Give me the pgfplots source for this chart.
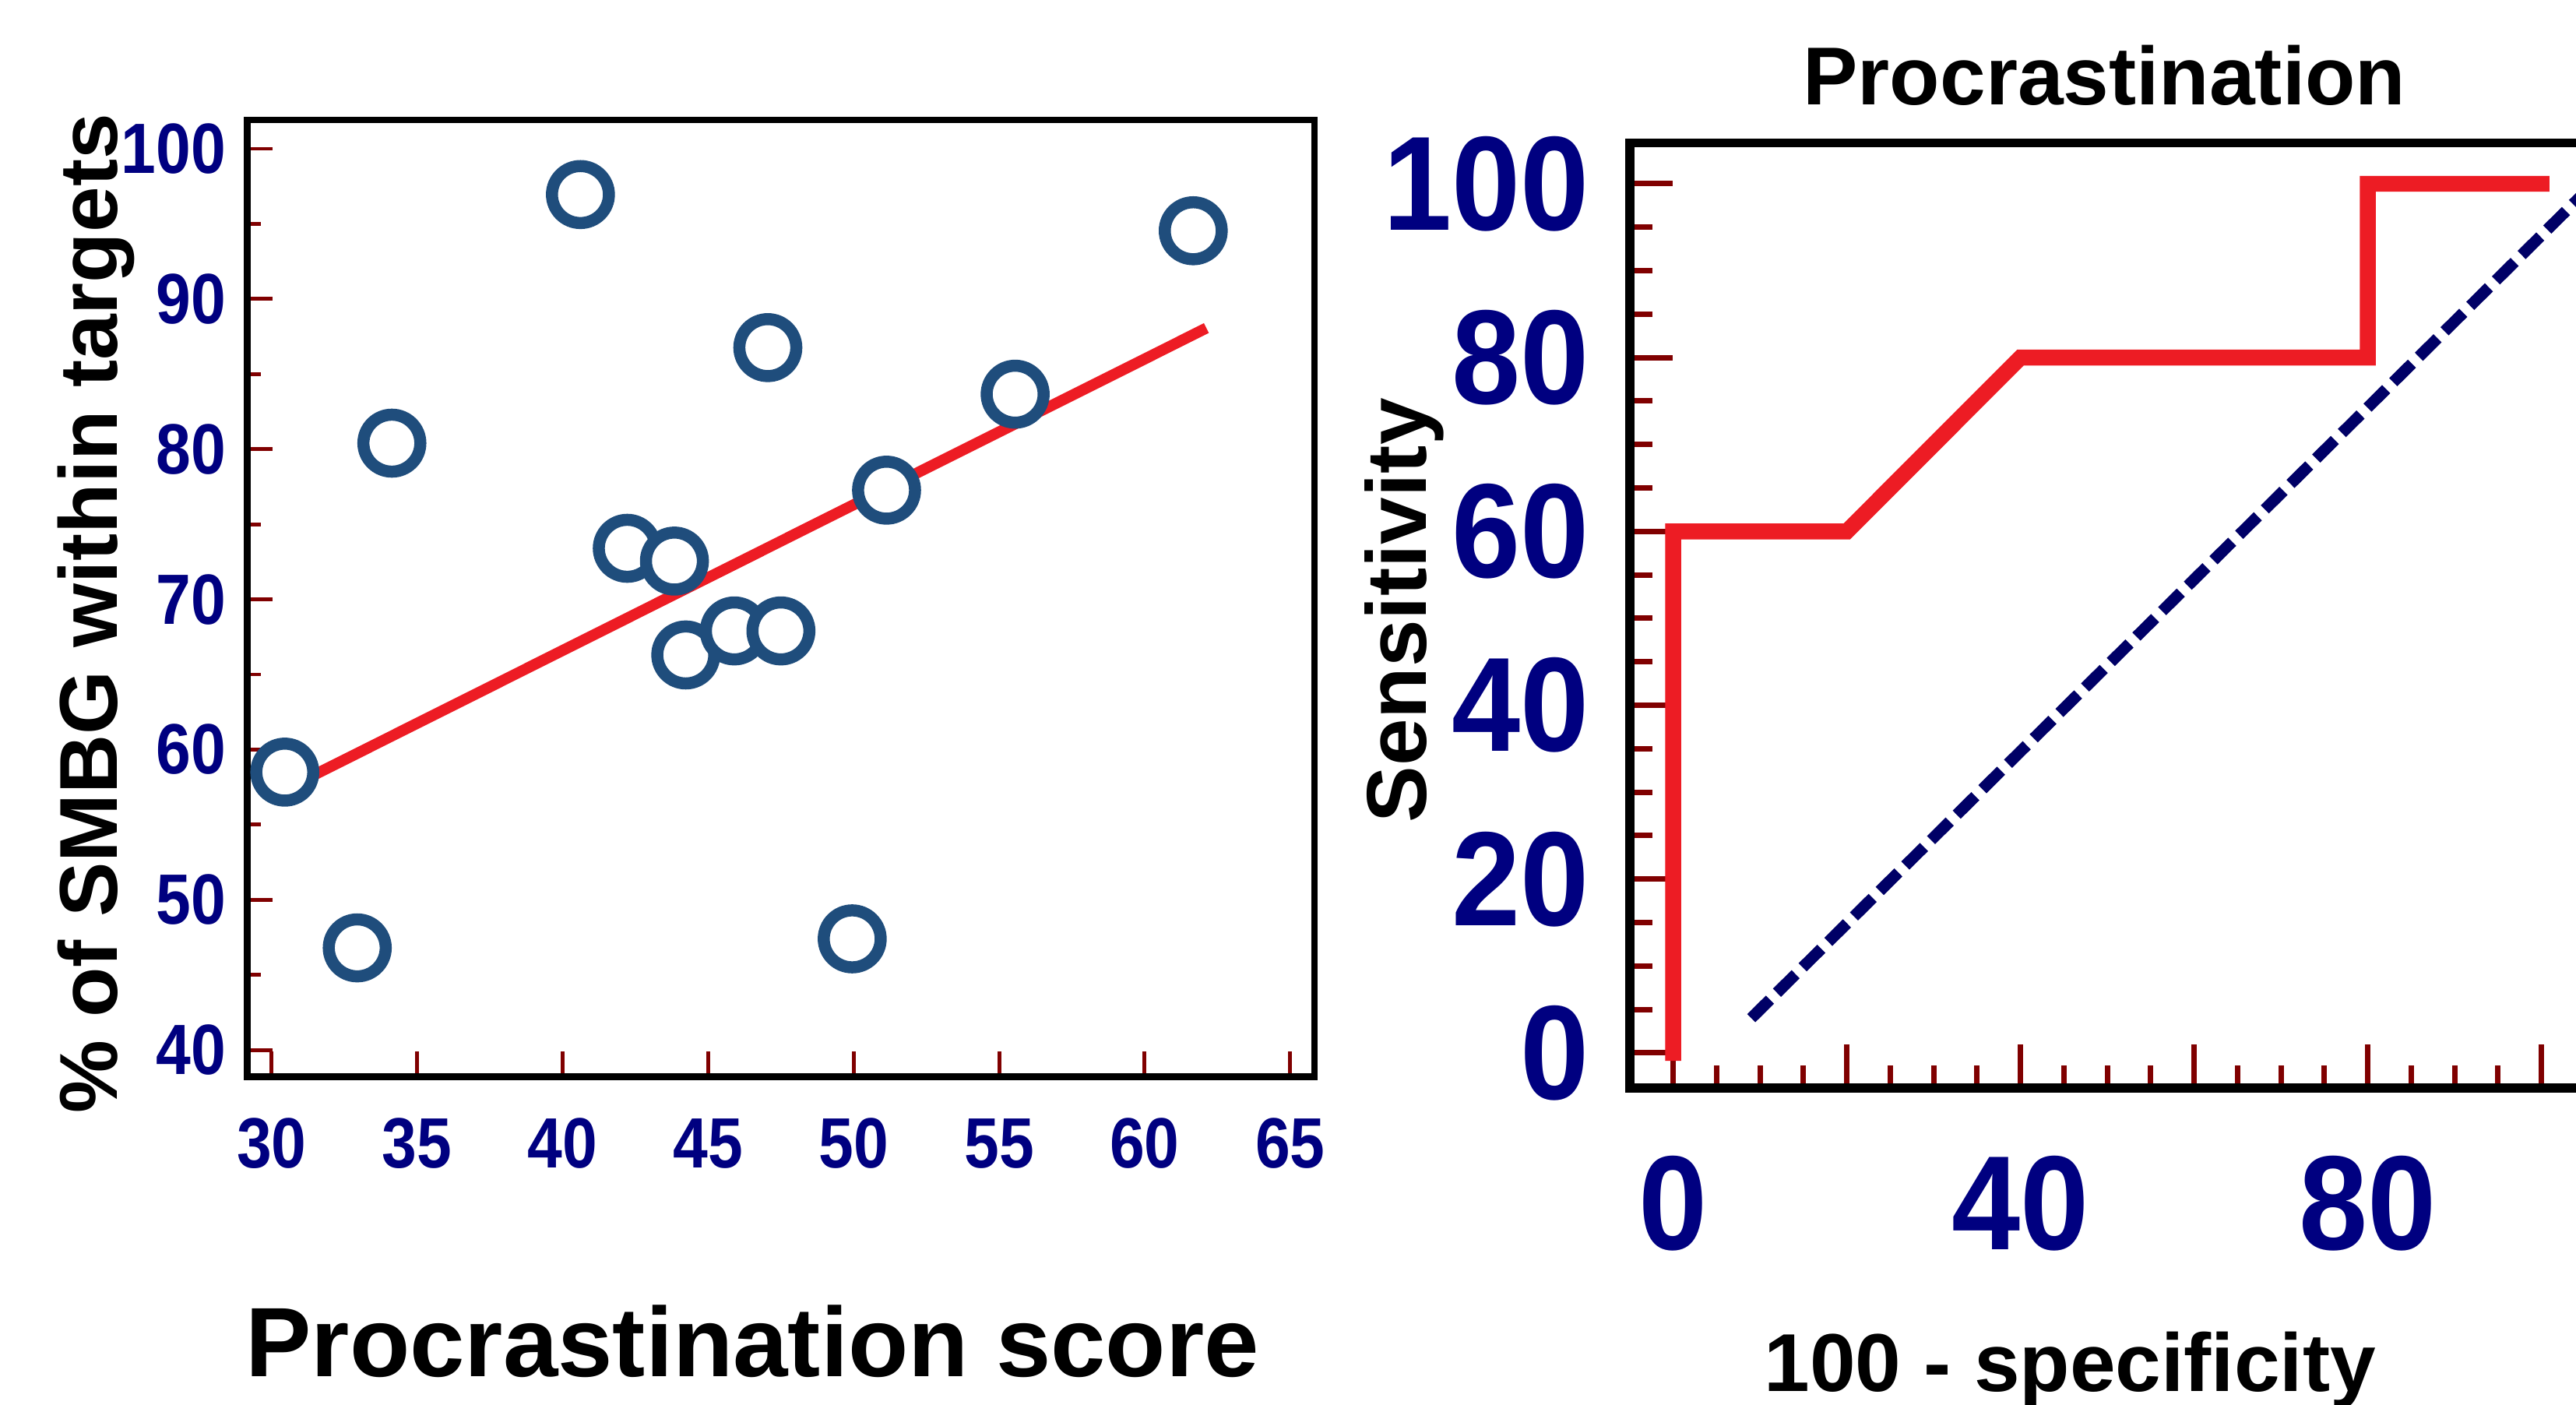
\documentclass[border=0pt]{standalone}
\usepackage{fontspec}
\setmainfont{Liberation Sans}
\usepackage{pgfplots}
\pgfplotsset{compat=1.18}
\definecolor{tlnavy}{RGB}{0,0,128}
\definecolor{tickred}{RGB}{128,0,0}
\definecolor{circblue}{RGB}{31,77,124}
\definecolor{regred}{RGB}{237,28,36}
\definecolor{dashnavy}{RGB}{0,0,102}
\begin{document}
\begin{tikzpicture}
\begin{axis}[
  at={(45.15pt,59.9pt)}, anchor=south west,
  scale only axis, width=194.85pt, height=174.7pt,
  xmin=29.16, xmax=65.83, ymin=38.22, ymax=101.92,
  xtick={30,35,...,65}, ytick={40,50,...,100},
  minor y tick num=1,
  tick align=inside, xtick pos=bottom, ytick pos=left,
  major tick length=4.6pt, minor tick length=2.5pt,
  tick style={tickred, line width=0.7pt},
  axis line style={line width=1.2pt, black},
  /pgf/number format/assume math mode=true,
  xticklabel style={font=\fontsize{13}{13}\selectfont\bfseries, text=tlnavy, anchor=base, yshift=-16.6pt, inner sep=0pt, xscale=0.88},
  yticklabel style={font=\fontsize{13}{13}\selectfont\bfseries, text=tlnavy, anchor=east, xshift=-3.75pt, inner sep=0pt, xscale=0.88},
  xlabel={Procrastination score},
  xlabel style={font=\fontsize{18}{18}\selectfont\bfseries, at={(axis description cs:0.4734,-0.3137)}, anchor=base},
  ylabel={\% of SMBG within targets},
  ylabel style={font=\fontsize{15}{15}\selectfont\bfseries, at={(axis description cs:-0.122,0.484)}, anchor=base},
]
\addplot[regred, line width=2pt, forget plot] coordinates {(31.3,58.16) (62.12,88.06)};
\addplot[only marks, mark=*, mark size=5.2pt, mark options={fill=white, draw=circblue, line width=2.2pt}] coordinates {
(30.45,58.5) (32.94,46.8) (34.13,80.4) (40.61,96.95) (42.22,73.4) (43.84,72.55) (44.23,66.3)
(45.9,67.9) (47.5,67.9) (47.05,86.76) (49.95,47.4) (51.13,77.27) (55.55,83.66) (61.67,94.54)};
\end{axis}

\begin{axis}[
  at={(297.6pt,57.9pt)}, anchor=south west,
  scale only axis, width=174.4pt, height=172.5pt,
  xmin=-5, xmax=105, ymin=-4, ymax=104.7,
  xtick={0,20,...,100}, xticklabels={0,,40,,80,},
  ytick={0,20,...,100},
  minor x tick num=3, minor y tick num=3,
  tick align=inside, xtick pos=bottom, ytick pos=left,
  major tick length=7.85pt, minor tick length=4.1pt,
  tick style={tickred, line width=1pt},
  axis line style={line width=1.7pt, black},
  /pgf/number format/assume math mode=true,
  xticklabel style={font=\fontsize{24.5}{24.5}\selectfont\bfseries, text=tlnavy, anchor=base, yshift=-29.6pt, inner sep=0pt, xscale=0.92},
  yticklabel style={font=\fontsize{24.5}{24.5}\selectfont\bfseries, text=tlnavy, anchor=east, xshift=-7.2pt, inner sep=0pt, xscale=0.92},
  title={Procrastination},
  every axis title/.style={font=\fontsize{15}{15}\selectfont\bfseries, at={(axis description cs:0.497,1.0406)}, anchor=base},
  xlabel={100 - specificity},
  xlabel style={font=\fontsize{15}{15}\selectfont\bfseries, at={(axis description cs:0.461,-0.3214)}, anchor=base},
  ylabel={Sensitivity},
  ylabel style={font=\fontsize{15.5}{15.5}\selectfont\bfseries, at={(axis description cs:-0.213,0.505)}, anchor=base},
]
\addplot[dashnavy, line width=2.1pt, dash pattern=on 4.8pt off 1.8pt] coordinates {(9,4) (106,100)};
\addplot[regred, line width=2.9pt, line cap=rect, line join=miter] coordinates {(0,0) (0,60) (20,60) (40,80) (80,80) (80,100) (100,100)};
\end{axis}
\pgfresetboundingbox
\useasboundingbox (0,0) rectangle (470.4pt,256.5pt);
\end{tikzpicture}
\end{document}
